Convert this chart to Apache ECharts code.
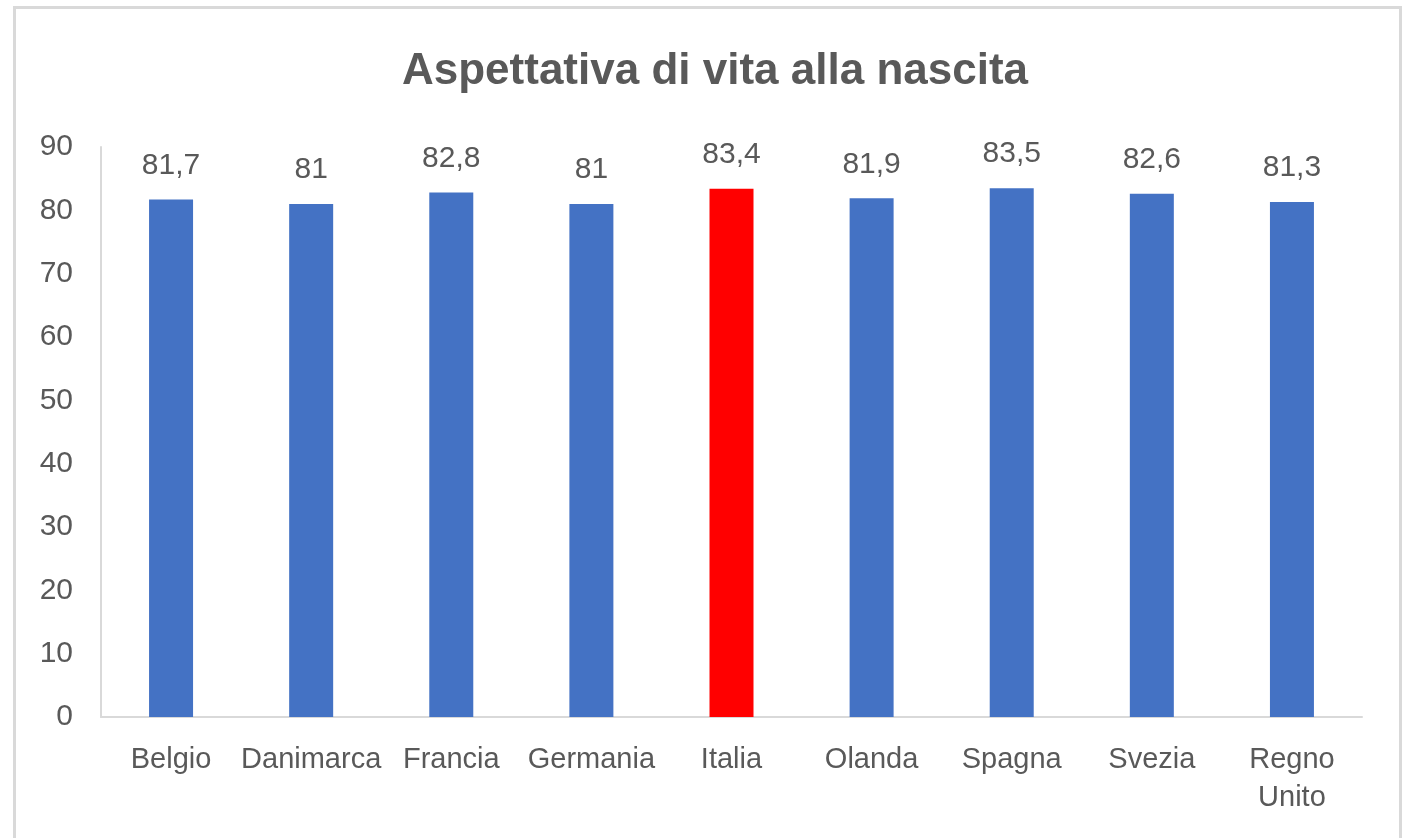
<!DOCTYPE html>
<html>
<head>
<meta charset="utf-8">
<title>Aspettativa di vita alla nascita</title>
<script src="https://cdn.jsdelivr.net/npm/echarts@6/dist/echarts.min.js"></script>
<style>
  html, body { margin: 0; padding: 0; background: #fff; overflow: hidden; }
  #frame { position: absolute; left: 13px; top: 6px; width: 1389px; height: 900px; border: 3px solid #d9d9d9; box-sizing: border-box; }
  #chart { position: absolute; left: 0; top: 0; width: 1414px; height: 838px; }
</style>
</head>
<body>
<div id="frame"></div>
<div id="chart"></div>
<script>
// dati: aspettativa di vita alla nascita (anni)
const countries = ['Belgio', 'Danimarca', 'Francia', 'Germania', 'Italia', 'Olanda', 'Spagna', 'Svezia', 'Regno Unito']
const lifeExpectancy = [81.7, 81, 82.8, 81, 83.4, 81.9, 83.5, 82.6, 81.3]
const highlighted = 'Italia'

const font = '"Liberation Sans", Arial, sans-serif'
const textColor = '#595959'

const chart = echarts.init(document.getElementById('chart'))

chart.setOption({
  animation: false,
  title: {
    text: 'Aspettativa di vita alla nascita',
    left: 710,
    textAlign: 'center',
    top: 45,
    textStyle: {
      fontFamily: font,
      fontWeight: 'bold',
      fontSize: 44,
      color: textColor
    }
  },
  grid: {
    left: 101,
    right: 52,
    top: 147,
    bottom: 121,
    containLabel: false
  },
  xAxis: {
    type: 'category',
    data: countries,
    axisLine: { lineStyle: { color: '#d9d9d9', width: 2 } },
    axisTick: { show: false },
    axisLabel: {
      interval: 0,
      margin: 24,
      fontFamily: font,
      fontSize: 29,
      lineHeight: 38,
      color: textColor,
      formatter: (v) => v.replace(' ', '\n')
    }
  },
  yAxis: {
    type: 'value',
    min: 0,
    max: 90,
    interval: 10,
    splitLine: { show: false },
    axisLine: { show: true, lineStyle: { color: '#d9d9d9', width: 2 } },
    axisTick: { show: false },
    axisLabel: {
      margin: 28,
      fontFamily: font,
      fontSize: 30,
      color: textColor
    }
  },
  series: [{
    type: 'bar',
    barWidth: 44,
    data: lifeExpectancy.map((v, i) => ({
      value: v,
      itemStyle: { color: countries[i] === highlighted ? '#ff0000' : '#4472c4' }
    })),
    label: {
      show: true,
      position: 'top',
      distance: 19,
      fontFamily: font,
      fontSize: 30,
      color: textColor,
      formatter: (p) => String(p.value).replace('.', ',')
    }
  }]
})
</script>
</body>
</html>
